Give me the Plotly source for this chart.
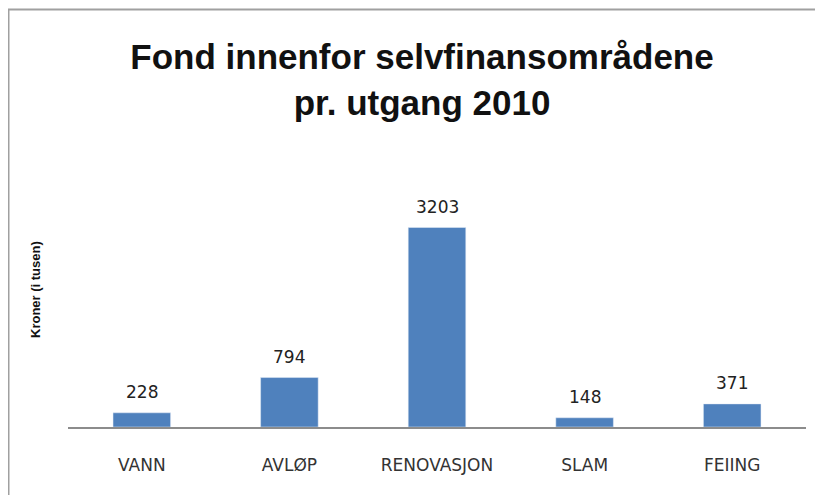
import plotly.graph_objects as go

categories = ["VANN", "AVLØP", "RENOVASJON", "SLAM", "FEIING"]
values = [228, 794, 3203, 148, 371]

title_text = "Fond innenfor selvfinansområdene<br>pr. utgang 2010"
y_title = "Kroner (i tusen)"

W, H = 815, 487
ml, mr, mt, mb = 60, 17, 160, 68
pw, ph = W - ml - mr, H - mt - mb

fig = go.Figure(go.Bar(
    x=categories, y=values,
    marker_color="#4F81BD",
    width=0.39,
    hoverinfo="x+y",
))

# value labels above bars
for c, v in zip(categories, values):
    fig.add_annotation(
        x=c, y=v, text=str(v), showarrow=False,
        yanchor="bottom", yshift=9,
        font=dict(size=17, color="#222", family="DejaVu Sans, sans-serif"),
    )

fig.update_layout(
    width=W, height=H,
    margin=dict(l=ml, r=mr, t=mt, b=mb),
    paper_bgcolor="white", plot_bgcolor="white",
    showlegend=False,
    title=dict(
        text=title_text, x=(414 - ml) / pw, xref="paper", xanchor="center",
        y=1 - 61 / H, yanchor="middle",
        font=dict(size=35, color="#111", family="Liberation Sans, Arial, sans-serif",
                  weight="bold"),
    ),
    xaxis=dict(
        showline=True, linecolor="#8c8c8c", linewidth=2,
        ticks="", showgrid=False,
        tickfont=dict(size=17, color="#333", family="DejaVu Sans, sans-serif"),
        ticklabelstandoff=22,
    ),
    yaxis=dict(
        range=[0, 3203 * ph / 199.5], visible=False, showgrid=False, zeroline=False,
    ),
    shapes=[dict(
        type="rect", xref="paper", yref="paper",
        x0=(0.5 - ml) / pw, x1=(W + 20 - ml) / pw,
        y0=-(mb + 30) / ph, y1=(H - mb - 1.5) / ph,
        line=dict(color="#a0a0a0", width=2), layer="below",
    )],
)

fig.add_annotation(
    text="<b>" + y_title + "</b>", textangle=-90,
    xref="paper", yref="paper",
    x=(27 - ml) / pw, y=(H - mb - 282) / ph,
    showarrow=False, xanchor="center", yanchor="middle",
    font=dict(size=13, color="#111", family="Liberation Sans, Arial, sans-serif"),
)

fig.write_html("out.html")
